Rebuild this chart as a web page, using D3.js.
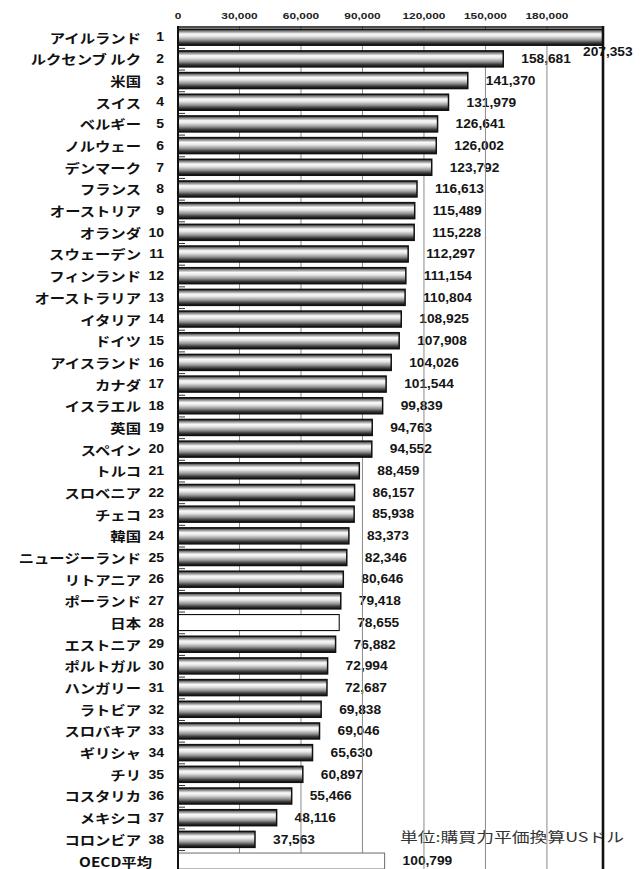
<!DOCTYPE html>
<html>
<head>
<meta charset="utf-8">
<script src="https://cdn.jsdelivr.net/npm/d3@7/dist/d3.min.js"></script>
<style>
  html, body { margin: 0; padding: 0; background: #fff; }
  svg { display: block; }
</style>
</head>
<body>
<svg id="chart" width="641" height="869"></svg>
<script>
// 一人当たり労働生産性（OECD加盟国）
const countries = [
  "アイルランド", "ルクセンブ ルク", "米国", "スイス", "ベルギー", "ノルウェー", "デンマーク",
  "フランス", "オーストリア", "オランダ", "スウェーデン", "フィンランド", "オーストラリア",
  "イタリア", "ドイツ", "アイスランド", "カナダ", "イスラエル", "英国", "スペイン", "トルコ",
  "スロベニア", "チェコ", "韓国", "ニュージーランド", "リトアニア", "ポーランド", "日本",
  "エストニア", "ポルトガル", "ハンガリー", "ラトビア", "スロバキア", "ギリシャ", "チリ",
  "コスタリカ", "メキシコ", "コロンビア"
];
const ranks = d3.range(1, 39);
const values = [
  207353, 158681, 141370, 131979, 126641, 126002, 123792,
  116613, 115489, 115228, 112297, 111154, 110804,
  108925, 107908, 104026, 101544, 99839, 94763, 94552, 88459,
  86157, 85938, 83373, 82346, 80646, 79418, 78655,
  76882, 72994, 72687, 69838, 69046, 65630, 60897,
  55466, 48116, 37563
];
const averageLabel = "OECD平均";
const averageValue = 100799;
const highlight = "日本";
const xTicks = [0, 30000, 60000, 90000, 120000, 150000, 180000];
const unitText = "単位:購買力平価換算USドル";

(function () {
  const rows = countries.map((c, i) => ({ key: "r" + i, name: c, rank: ranks[i], value: values[i], kind: c === highlight ? "jp" : "c" }));
  rows.push({ key: "avg", name: averageLabel, rank: null, value: averageValue, kind: "avg" });

  const W = 641, H = 869;
  const plotL = 178, plotR = 603, plotT = 26.2, step = 21.68;
  const svg = d3.select("#chart");

  const x = d3.scaleLinear().domain([0, d3.max(values)]).range([plotL, plotR]);
  const y = d3.scaleBand().domain(rows.map(d => d.key)).range([plotT, plotT + step * rows.length]).padding(0);
  const barOff = 3, barH = 16;
  const yc = d => y(d.key) + barOff + barH / 2;

  // cylinder-style shading for the bars
  const defs = svg.append("defs");
  const g = defs.append("linearGradient").attr("id", "cyl").attr("x1", 0).attr("y1", 0).attr("x2", 0).attr("y2", 1);
  [[0, "#1a1a1a"], [0.1, "#707070"], [0.3, "#fbfbfb"], [0.45, "#e6e6e6"], [0.68, "#939393"], [0.85, "#3c3c3c"], [1, "#0e0e0e"]]
    .forEach(([o, c]) => g.append("stop").attr("offset", o).attr("stop-color", c));

  const numFont = "'Liberation Sans', Arial, sans-serif";
  const jpFont = "'Noto Sans CJK JP', sans-serif";
  const fmt = d3.format(",");

  // value labels (drawn first so the grid passes over them)
  const valG = svg.append("g");
  rows.forEach(d => {
    const sx = 1.1;
    const t = valG.append("text")
      .attr("font-family", numFont).attr("font-weight", "bold").attr("font-size", 12.5)
      .attr("fill", "#151515").attr("dominant-baseline", "central")
      .text(fmt(d.value));
    const w = t.node().getComputedTextLength() * sx;
    let tx = x(d.value) + 18, ty = yc(d);
    if (tx + w > W) { tx = x(d.value) - 20; ty = yc(d) + 15; }
    t.attr("transform", `translate(${tx},${ty}) scale(${sx},1)`);
  });

  // unit note
  svg.append("text")
    .attr("transform", `translate(400,${yc(rows[37]) - 3}) scale(1.32,1)`)
    .attr("font-family", jpFont).attr("font-size", 13.5).attr("fill", "#333")
    .attr("dominant-baseline", "central")
    .text(unitText);

  // vertical gridlines
  svg.append("g").selectAll("line").data(xTicks.filter(v => v > 0)).join("line")
    .attr("x1", d => x(d)).attr("x2", d => x(d))
    .attr("y1", plotT).attr("y2", H)
    .attr("stroke", "#8a8a8a").attr("stroke-width", 1);

  // bars
  svg.append("g").selectAll("rect").data(rows).join("rect")
    .attr("x", x(0)).attr("y", d => y(d.key) + barOff)
    .attr("width", d => x(d.value) - x(0)).attr("height", barH)
    .attr("fill", d => d.kind === "c" ? "url(#cyl)" : "#fff")
    .attr("stroke", d => d.kind === "avg" ? "#777" : "#111")
    .attr("stroke-width", d => d.kind === "c" ? 1.5 : 1.1);

  // category tick marks between rows
  svg.append("g").selectAll("line").data(rows.slice(1)).join("line")
    .attr("x1", plotL).attr("x2", plotL + 7)
    .attr("y1", d => y(d.key) + 0.5).attr("y2", d => y(d.key) + 0.5)
    .attr("stroke", "#333").attr("stroke-width", 1);

  // plot frame
  svg.append("line").attr("x1", plotL).attr("x2", plotR).attr("y1", 27).attr("y2", 27)
    .attr("stroke", "#111").attr("stroke-width", 1.6);
  svg.append("line").attr("x1", plotL).attr("x2", plotL).attr("y1", 26).attr("y2", H)
    .attr("stroke", "#111").attr("stroke-width", 2);
  svg.append("line").attr("x1", plotR).attr("x2", plotR).attr("y1", 26).attr("y2", H)
    .attr("stroke", "#111").attr("stroke-width", 2.6);

  // top axis labels
  svg.append("g").selectAll("text").data(xTicks).join("text")
    .attr("transform", d => `translate(${x(d)},15) scale(1.25,1)`)
    .attr("text-anchor", "middle").attr("dominant-baseline", "central")
    .attr("font-family", numFont).attr("font-weight", "bold").attr("font-size", 9.5)
    .attr("fill", "#222")
    .text(d => fmt(d));

  // country names and ranks
  const lab = svg.append("g");
  rows.forEach(d => {
    lab.append("text")
      .attr("transform", `translate(${d.kind === "avg" ? 152 : 141},${yc(d)}) scale(1.18,1)`)
      .attr("text-anchor", "end").attr("dominant-baseline", "central")
      .attr("font-family", jpFont).attr("font-weight", "bold").attr("font-size", 13)
      .attr("fill", "#111")
      .text(d.name);
    if (d.rank !== null) {
      lab.append("text")
        .attr("transform", `translate(164,${yc(d)}) scale(1.12,1)`)
        .attr("text-anchor", "end").attr("dominant-baseline", "central")
        .attr("font-family", numFont).attr("font-weight", "bold").attr("font-size", 12.5)
        .attr("fill", "#111")
        .text(d.rank);
    }
  });
})();
</script>
</body>
</html>
